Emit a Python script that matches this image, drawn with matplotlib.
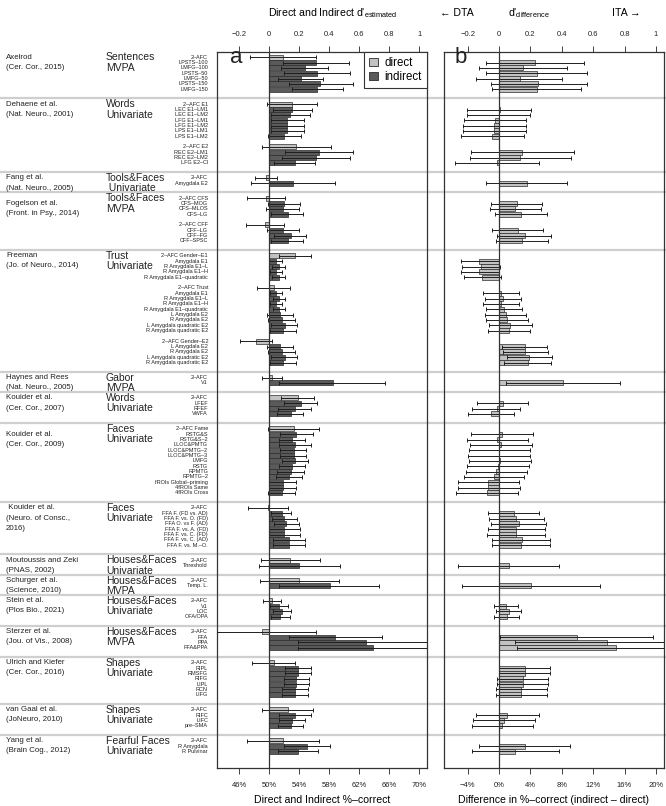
import numpy as np
import matplotlib
matplotlib.use("Agg")
import matplotlib.pyplot as plt
from matplotlib.patches import Patch
from matplotlib.lines import Line2D
from matplotlib.transforms import blended_transform_factory

plt.rcParams['font.family'] = ['Liberation Sans', 'DejaVu Sans']
plt.rcParams['mathtext.default'] = 'regular'

nan = np.nan

# study / stimulus+method per group, and number of rows (incl. blank rows)
studies = ["Axelrod\n(Cer. Cor., 2015)", "Dehaene et al.\n(Nat. Neuro., 2001)",
           "Fang et al.\n(Nat. Neuro., 2005)", "Fogelson et al.\n(Front. in Psy., 2014)",
           "Freeman\n(Jo. of Neuro., 2014)", "Haynes and Rees\n(Nat. Neuro., 2005)",
           "Kouider et al.\n(Cer. Cor., 2007)", "Kouider et al.\n(Cer. Cor., 2009)",
           " Kouider et al.\n(Neuro. of Consc.,\n2016)", "Moutoussis and Zeki\n(PNAS, 2002)",
           "Schurger et al.\n(Science, 2010)", "Stein et al.\n(Plos Bio., 2021)",
           "Sterzer et al.\n(Jou. of Vis., 2008)", "Ulrich and Kiefer\n(Cer. Cor., 2016)",
           "van Gaal et al.\n(JoNeuro, 2010)", "Yang et al.\n(Brain Cog., 2012)"]
categories = ["Sentences\nMVPA", "Words\nUnivariate", "Tools&Faces\n Univariate", "Tools&Faces\nMVPA",
              "Trust\nUnivariate", "Gabor\nMVPA", "Words\nUnivariate", "Faces\nUnivariate",
              "Faces\nUnivariate", "Houses&Faces\nUnivariate", "Houses&Faces\nMVPA",
              "Houses&Faces\nUnivariate", "Houses&Faces\nMVPA", "Shapes\nUnivariate",
              "Shapes\nUnivariate", "Fearful Faces\nUnivariate"]
group_sizes = [7, 12, 2, 9, 21, 2, 4, 13, 8, 2, 2, 4, 4, 7, 4, 3]
study_shift = [0, 0, 0, 1, 0, 0, 0, 1, 0, 0, 0, 0, 0, 0, 0, 0]

row_labels = [
    "2–AFC", "LPSTS–100", "LMFG–100", "LPSTS–50", "LMFG–50", "LPSTS–150", "LMFG–150",
    "2–AFC E1", "LEC E1–LM1", "LEC E1–LM2", "LFG E1–LM1", "LFG E1–LM2", "LPS E1–LM1", "LPS E1–LM2", "",
    "2–AFC E2", "REC E2–LM1", "REC E2–LM2", "LFG E2–CI",
    "2–AFC", "Amygdala E2",
    "2–AFC CFS", "CFS–MOG", "CFS–MLOS", "CFS–LG", "", "2–AFC CFF", "CFF–LG", "CFF–FG", "CFF–SPSC",
    "2–AFC Gender–E1", "Amygdala E1", "R Amygdala E1–L", "R Amygdala E1–H", "R Amygdala E1–quadratic", "",
    "2–AFC Trust", "Amygdala E1", "R Amygdala E1–L", "R Amygdala E1–H", "R Amygdala E1–quadratic",
    "L Amygdala E2", "R Amygdala E2", "L Amygdala quadratic E2", "R Amygdala quadratic E2", "",
    "2–AFC Gender–E2", "L Amygdala E2", "R Amygdala E2", "L Amygdala quadratic E2", "R Amygdala quadratic E2",
    "2–AFC", "V1",
    "2–AFC", "LFEF", "RFEF", "VWFA",
    "2–AFC Fame", "RSTG&S", "RSTG&S–2", "LLOC&PMTG", "LLOC&PMTG–2", "LLOC&PMTG–3", "LMFG", "RSTG",
    "RPMTG", "RPMTG–2", "fROIs Global–priming", "4fROIs Same", "4fROIs Cross",
    "2–AFC", "FFA F. (FD vs. AD)", "FFA F. vs. O. (FD)", "FFA O. vs F. (AD)", "FFA F. vs. A. (FD)",
    "FFA F. vs. C. (FD)", "FFA F. vs. C. (AD)", "FFA F. vs. M.–O.",
    "2–AFC", "Threshold",
    "2–AFC", "Temp. L.",
    "2–AFC", "V1", "LOC", "OFA/OPA",
    "2–AFC", "FFA", "PPA", "FFA&PPA",
    "2–AFC", "RIPL", "RMSFG", "RIFG", "LIPL", "RCN", "LIFG",
    "2–AFC", "RIFC", "LIFC", "pre–SMA",
    "2–AFC", "R Amygdala", "R Pulvinar",
]

# panel a: d' estimated (2-AFC rows = direct, other rows = indirect)
d_est = [0.09, 0.31, 0.24, 0.32, 0.21, 0.34, 0.32,
         0.15, 0.15, 0.14, 0.12, 0.12, 0.12, 0.10, nan, 0.18, 0.33, 0.31, 0.17,
         -0.02, 0.16,
         -0.02, 0.10, 0.089, 0.122, nan, -0.031, 0.089, 0.142, 0.122,
         0.171, 0.042, 0.062, 0.042, 0.062, nan, 0.033, 0.042, 0.062, 0.042, 0.062, 0.073, 0.082, 0.102, 0.089,
         nan, -0.091, 0.071, 0.082, 0.102, 0.089,
         0.018, 0.422,
         0.189, 0.211, 0.171, 0.142,
         0.162, 0.18, 0.151, 0.171, 0.162, 0.162, 0.171, 0.151, 0.142, 0.131, 0.089, 0.089, 0.082,
         -0.011, 0.082, 0.10, 0.109, 0.10, 0.10, 0.129, 0.129,
         0.138, 0.2,
         0.2, 0.402,
         0.018, 0.062, 0.082, 0.071,
         -0.051, 0.44, 0.642, 0.691,
         0.033, 0.189, 0.189, 0.18, 0.18, 0.171, 0.171,
         0.122, 0.171, 0.151, 0.142,
         0.091, 0.251, 0.189]
d_lo = [-0.13, 0.09, 0.08, 0.10, 0.06, 0.13, 0.15,
        -0.016, 0.022, 0.011, 0.011, 0.011, 0.011, -0.007, nan, -0.047, 0.104, 0.084, 0.033,
        -0.093, -0.12,
        -0.149, -0.007, -0.022, 0.013, nan, -0.158, -0.016, 0.033, 0.013,
        0.067, 0.0, 0.018, 0.004, 0.018, nan, -0.08, 0.004, 0.022, 0.004, 0.022, -0.018, -0.007, 0.011, 0.004,
        nan, -0.198, -0.016, -0.007, 0.011, 0.004,
        -0.047, 0.067,
        0.08, 0.10, 0.06, 0.051,
        -0.011, 0.073, 0.064, 0.067, 0.073, 0.073, 0.087, 0.064, 0.051, 0.047, 0.0, 0.0, -0.007,
        -0.144, 0.013, 0.018, 0.029, -0.002, -0.002, 0.027, 0.027,
        -0.058, -0.071,
        -0.064, 0.067,
        -0.04, 0.004, 0.022, 0.011,
        -0.40, 0.133, 0.193, 0.189,
        -0.116, 0.107, 0.107, 0.10, 0.10, 0.087, 0.087,
        -0.047, 0.067, 0.067, 0.058,
        -0.149, 0.10, 0.06]
d_hi = [0.31, 0.53, 0.39, 0.54, 0.36, 0.56, 0.49,
        0.316, 0.282, 0.271, 0.229, 0.229, 0.229, 0.209, nan, 0.409, 0.556, 0.538, 0.307,
        0.053, 0.438,
        0.107, 0.207, 0.198, 0.227, nan, 0.10, 0.198, 0.247, 0.227,
        0.278, 0.082, 0.102, 0.082, 0.102, nan, 0.138, 0.082, 0.102, 0.082, 0.102, 0.158, 0.169, 0.187, 0.178,
        nan, 0.018, 0.158, 0.169, 0.187, 0.178,
        0.084, 0.771,
        0.298, 0.318, 0.28, 0.227,
        0.331, 0.289, 0.236, 0.28, 0.247, 0.247, 0.258, 0.236, 0.229, 0.218, 0.18, 0.18, 0.169,
        0.127, 0.144, 0.184, 0.196, 0.207, 0.207, 0.236, 0.236,
        0.338, 0.471,
        0.467, 0.731,
        0.08, 0.122, 0.142, 0.136,
        0.313, 0.749, 1.10, 1.20,
        0.173, 0.276, 0.276, 0.264, 0.264, 0.256, 0.256,
        0.289, 0.276, 0.236, 0.227,
        0.331, 0.407, 0.322]

# panel b: d' difference (indirect - direct)
diff = [nan, 0.23, 0.15, 0.24, 0.13, 0.25, 0.24,
        nan, 0.003, -0.004, -0.026, -0.032, -0.032, -0.045, nan, nan, 0.147, 0.135, -0.011,
        nan, 0.175,
        nan, 0.111, 0.103, 0.141, nan, nan, 0.122, 0.167, 0.147,
        nan, -0.128, -0.113, -0.128, -0.109, nan, nan, 0.013, 0.026, 0.013, 0.032, 0.041, 0.047, 0.071, 0.064,
        nan, nan, 0.162, 0.167, 0.192, 0.184,
        nan, 0.41,
        nan, 0.026, -0.015, -0.051,
        nan, 0.019, -0.011, 0.013, 0.002, 0.001, 0.006, -0.009, -0.017, -0.03, -0.068, -0.068, -0.075,
        nan, 0.092, 0.109, 0.124, 0.109, 0.109, 0.145, 0.141,
        nan, 0.064,
        nan, 0.203,
        nan, 0.043, 0.06, 0.047,
        nan, 0.496, 0.688, 0.744,
        nan, 0.162, 0.162, 0.152, 0.152, 0.141, 0.141,
        nan, 0.053, 0.034, 0.021,
        nan, 0.162, 0.103]
diff_lo = [nan, -0.085, -0.13, -0.083, -0.15, -0.05, -0.047,
           nan, -0.203, -0.207, -0.226, -0.231, -0.231, -0.241, nan, nan, -0.179, -0.188, -0.282,
           nan, -0.085,
           nan, -0.051, -0.06, -0.028, nan, nan, -0.045, -0.011, -0.021,
           nan, -0.246, -0.235, -0.246, -0.226, nan, nan, -0.103, -0.09, -0.103, -0.083, -0.09, -0.085, -0.062, -0.071,
           nan, nan, 0.017, 0.026, 0.047, 0.034,
           nan, 0.043,
           nan, -0.141, -0.171, -0.199,
           nan, -0.179, -0.207, -0.186, -0.194, -0.199, -0.19, -0.205, -0.214, -0.224, -0.263, -0.265, -0.274,
           nan, -0.071, -0.064, -0.049, -0.073, -0.075, -0.043, -0.043,
           nan, -0.263,
           nan, -0.237,
           nan, -0.036, -0.021, -0.034,
           nan, 0.004, 0.10, 0.111,
           nan, 0.0, -0.004, -0.011, -0.011, -0.019, -0.021,
           nan, -0.145, -0.165, -0.175,
           nan, -0.128, -0.175]
diff_hi = [nan, 0.54, 0.43, 0.56, 0.40, 0.56, 0.52,
           nan, 0.203, 0.197, 0.173, 0.169, 0.169, 0.156, nan, nan, 0.479, 0.457, 0.256,
           nan, 0.436,
           nan, 0.274, 0.269, 0.308, nan, nan, 0.282, 0.333, 0.31,
           nan, -0.004, 0.004, -0.004, 0.013, nan, nan, 0.126, 0.137, 0.128, 0.147, 0.173, 0.182, 0.209, 0.194,
           nan, nan, 0.308, 0.314, 0.34, 0.329,
           nan, 0.771,
           nan, 0.186, 0.135, 0.096,
           nan, 0.218, 0.182, 0.209, 0.199, 0.194, 0.205, 0.188, 0.175, 0.16, 0.126, 0.13, 0.12,
           nan, 0.256, 0.288, 0.301, 0.291, 0.291, 0.327, 0.327,
           nan, 0.385,
           nan, 0.641,
           nan, 0.122, 0.141, 0.128,
           nan, 0.983, 1.28, 1.38,
           nan, 0.327, 0.323, 0.314, 0.314, 0.306, 0.306,
           nan, 0.252, 0.226, 0.214,
           nan, 0.449, 0.385]

light = '#c2c2c2'
dark = '#5a5a5a'
edge = '#2a2a2a'

# row positions (one unit per row, extra space between studies)
ypos, seps, firsts = [], [], []
cur = 0.0
for n in group_sizes:
    firsts.append(cur)
    ypos += [cur + i for i in range(n)]
    seps.append(cur + n - 1 + 1.7)
    cur = cur + n - 1 + 2.8
ypos = np.array(ypos)
y_top = -0.97
y_bot = ypos[-1] + 3.05

d_est = np.array(d_est); d_lo = np.array(d_lo); d_hi = np.array(d_hi)
diff = np.array(diff); diff_lo = np.array(diff_lo); diff_hi = np.array(diff_hi)
is_direct = np.array([lab.startswith("2–AFC") for lab in row_labels])

W, H = 666, 806
fig = plt.figure(figsize=(W / 100, H / 100), dpi=100)
fig.patch.set_facecolor('white')
ax_bot, ax_top = 767.7, 52.0
ax_a = fig.add_axes([216.7 / W, 1 - ax_bot / H, 210.3 / W, (ax_bot - ax_top) / H])
ax_b = fig.add_axes([444.3 / W, 1 - ax_bot / H, 219.4 / W, (ax_bot - ax_top) / H])

for ax in (ax_a, ax_b):
    ax.set_facecolor('none')
    ax.set_xlim(-0.35, 1.05)
    ax.set_ylim(y_bot, y_top)
    ax.set_yticks([])
    ax.xaxis.tick_top()
    ax.set_xticks([-0.2, 0, 0.2, 0.4, 0.6, 0.8, 1])
    ax.set_xticklabels(['−0.2', '0', '0.2', '0.4', '0.6', '0.8', '1'])
    ax.tick_params(axis='x', direction='out', length=4, width=0.6, labelsize=5.5, pad=6, colors='#222222')
    for s in ax.spines.values():
        s.set_linewidth(0.9)
        s.set_color('#333333')
    ax.axvline(0, color='#333333', lw=0.9, zorder=4)

# panel a bars
ok = ~np.isnan(d_est)
cols = np.where(is_direct, light, dark)
ax_a.barh(ypos[ok], d_est[ok], height=0.95, color=cols[ok], edgecolor=edge, linewidth=0.5, zorder=2)
ax_a.errorbar(d_est[ok], ypos[ok], xerr=[d_est[ok] - d_lo[ok], d_hi[ok] - d_est[ok]], fmt='none',
              ecolor='#1e1e1e', elinewidth=0.7, capsize=1.3, capthick=0.7, zorder=3)

# panel b bars
ok = ~np.isnan(diff)
ax_b.barh(ypos[ok], diff[ok], height=0.95, color=light, edgecolor=edge, linewidth=0.5, zorder=2)
ax_b.errorbar(diff[ok], ypos[ok], xerr=[diff[ok] - diff_lo[ok], diff_hi[ok] - diff[ok]], fmt='none',
              ecolor='#1e1e1e', elinewidth=0.7, capsize=1.3, capthick=0.7, zorder=3)

# percent axes at the bottom
sa = ax_a.secondary_xaxis('bottom', functions=(lambda d: 50 + 20 * d, lambda p: (p - 50) / 20))
sa.set_xticks([46, 50, 54, 58, 62, 66, 70])
sa.set_xticklabels(['46%', '50%', '54%', '58%', '62%', '66%', '70%'])
sb = ax_b.secondary_xaxis('bottom', functions=(lambda d: 20 * d, lambda p: p / 20))
sb.set_xticks([-4, 0, 4, 8, 12, 16, 20])
sb.set_xticklabels(['−4%', '0%', '4%', '8%', '12%', '16%', '20%'])
for s in (sa, sb):
    s.tick_params(direction='out', length=4, width=0.6, labelsize=5.5, pad=6, colors='#222222')
    s.spines['bottom'].set_visible(False)

# separators across the whole figure
trans = blended_transform_factory(fig.transFigure, ax_a.transData)
for y in seps[:-1]:
    fig.add_artist(Line2D([0, 1], [y, y], transform=trans, color='#cfcfcf', lw=1.6, zorder=-1))

# left-hand labels
for gi, (st, cat) in enumerate(zip(studies, categories)):
    y0 = firsts[gi]
    for k, line in enumerate(st.split('\n')):
        fig.text(6 / W, y0 + study_shift[gi] + 1.9 * k, line, transform=trans, fontsize=5.7,
                 va='center', ha='left', color='#222222')
    for k, line in enumerate(cat.split('\n')):
        fig.text(106 / W, y0 + 1.95 * k, line, transform=trans, fontsize=7.5,
                 va='center', ha='left', color='#222222')
for y, lab in zip(ypos, row_labels):
    if lab:
        fig.text(208 / W, y, lab, transform=trans, fontsize=4.0, va='center', ha='right', color='#222222')

# legend and panel letters
handles = [Patch(facecolor=light, edgecolor=edge, linewidth=0.6),
           Patch(facecolor=dark, edgecolor=edge, linewidth=0.6)]
leg = ax_a.legend(handles, ['direct', 'indirect'], loc='upper right', borderaxespad=0, fancybox=False,
                  fontsize=8.3, handlelength=0.75, handleheight=0.75, handletextpad=0.6,
                  borderpad=0.45, labelspacing=0.15, framealpha=1)
leg.get_frame().set_edgecolor('#333333')
leg.get_frame().set_linewidth(0.8)
ax_a.text(0.065, 0.984, 'a', transform=ax_a.transAxes, fontsize=16, va='baseline', color='#222222')
ax_b.text(0.045, 0.984, 'b', transform=ax_b.transAxes, fontsize=16, va='baseline', color='#222222')

# headers and axis titles
fig.text(268 / W, 1 - 13 / H, "Direct and Indirect d'$_{estimated}$", fontsize=7.6, va='center', ha='left')
fig.text(440 / W, 1 - 13 / H, "← DTA", fontsize=7.6, va='center', ha='left')
fig.text(508 / W, 1 - 13 / H, "d'$_{difference}$", fontsize=7.6, va='center', ha='left')
fig.text(612 / W, 1 - 13 / H, "ITA →", fontsize=7.6, va='center', ha='left')
fig.text(322 / W, 1 - 800 / H, "Direct and Indirect %–correct", fontsize=7.6, va='center', ha='center')
fig.text(554 / W, 1 - 800 / H, "Difference in %–correct (indirect – direct)", fontsize=7.6,
         va='center', ha='center')

fig.savefig('out.png', dpi=100)
